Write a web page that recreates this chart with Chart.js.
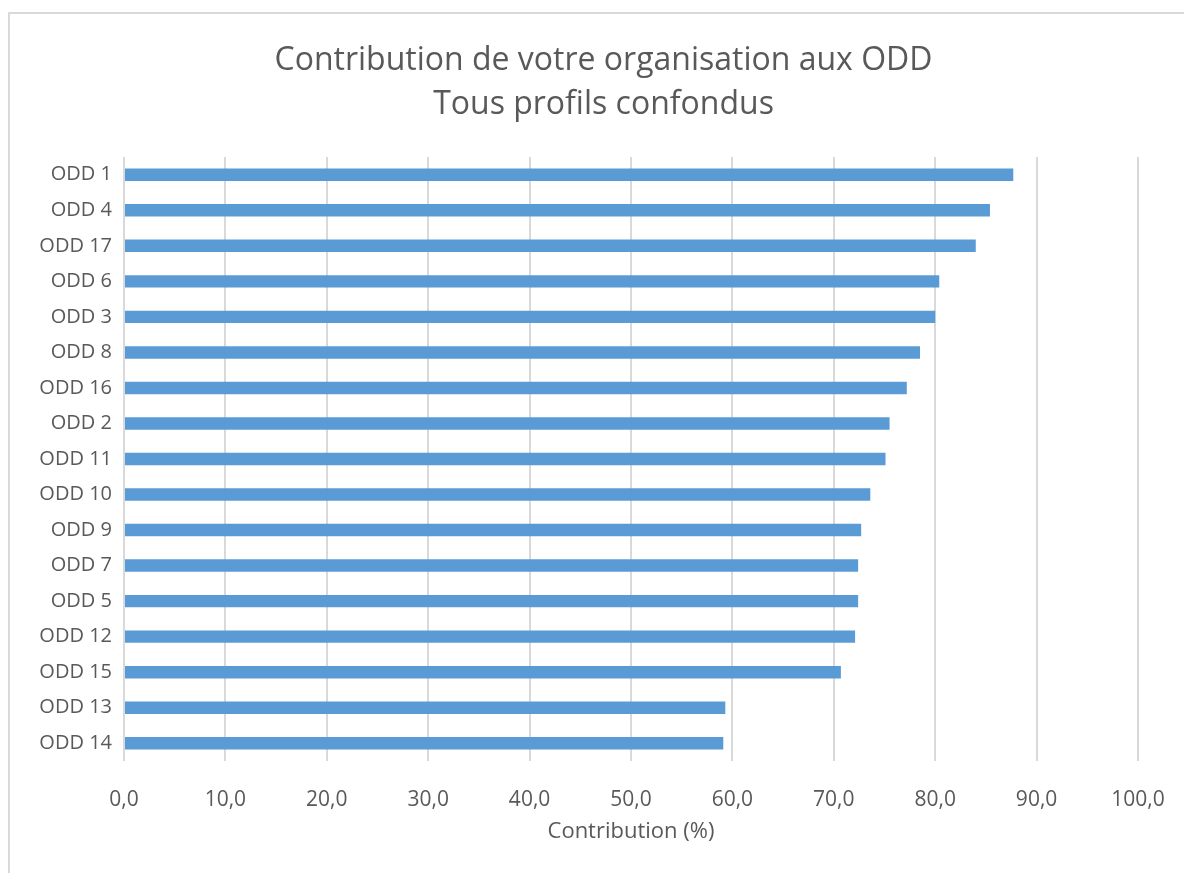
<!DOCTYPE html>
<html>
<head>
<meta charset="utf-8">
<script src="https://cdn.jsdelivr.net/npm/chart.js@4"></script>
<style>
  html, body { margin: 0; padding: 0; overflow: hidden; background: #fff; }
  #frame { position: absolute; left: 8px; top: 12px; width: 1187px; height: 880px; border: 2px solid #d9d9d9; }
</style>
</head>
<body>
<div id="frame"><canvas id="odd" width="1187" height="880"></canvas></div>
<script>
  // données
  const categories = ['ODD 1', 'ODD 4', 'ODD 17', 'ODD 6', 'ODD 3', 'ODD 8', 'ODD 16', 'ODD 2', 'ODD 11',
    'ODD 10', 'ODD 9', 'ODD 7', 'ODD 5', 'ODD 12', 'ODD 15', 'ODD 13', 'ODD 14'];
  const contribution = [87.7, 85.4, 84.0, 80.4, 80.0, 78.5, 77.2, 75.5, 75.1,
    73.6, 72.7, 72.4, 72.4, 72.1, 70.7, 59.3, 59.1];
  const titleLines = ['Contribution de votre organisation aux ODD', 'Tous profils confondus'];

  const grey = '#595959';
  const fontFamily = "'Open Sans', sans-serif";

  new Chart(document.getElementById('odd'), {
    type: 'bar',
    data: {
      labels: categories,
      datasets: [{
        label: 'Contribution (%)',
        data: contribution,
        backgroundColor: '#5b9bd5',
        barPercentage: 0.7,
        categoryPercentage: 0.5
      }]
    },
    options: {
      indexAxis: 'y',
      responsive: false,
      animation: false,
      layout: { padding: 0 },
      plugins: {
        legend: { display: false },
        tooltip: { enabled: false },
        title: {
          display: true,
          text: titleLines,
          color: grey,
          font: { family: fontFamily, size: 32, weight: 'normal', lineHeight: 44 / 32 },
          padding: { top: 25, bottom: 30 }
        }
      },
      scales: {
        x: {
          min: 0,
          max: 100,
          ticks: {
            stepSize: 10,
            color: grey,
            padding: 26,
            font: { family: fontFamily, size: 21 },
            callback: v => v.toFixed(1).replace('.', ',')
          },
          grid: { color: '#d9d9d9', lineWidth: 2, drawTicks: false },
          border: { display: false },
          title: {
            display: true,
            text: 'Contribution (%)',
            color: grey,
            font: { family: fontFamily, size: 22 },
            padding: { top: 0, bottom: 49 }
          },
          afterFit: scale => { scale.height = 133; }
        },
        y: {
          grid: { display: false },
          border: { display: false },
          ticks: {
            color: grey,
            padding: 4,
            font: { family: fontFamily, size: 20 }
          },
          afterFit: scale => { scale.width = 114; }
        },
        // marge droite vide, pour garder le titre centré sur tout le cadre
        yRight: {
          type: 'category',
          position: 'right',
          grid: { display: false },
          border: { display: false },
          ticks: { display: false },
          afterFit: scale => { scale.width = 59; }
        }
      }
    }
  });
</script>
</body>
</html>
